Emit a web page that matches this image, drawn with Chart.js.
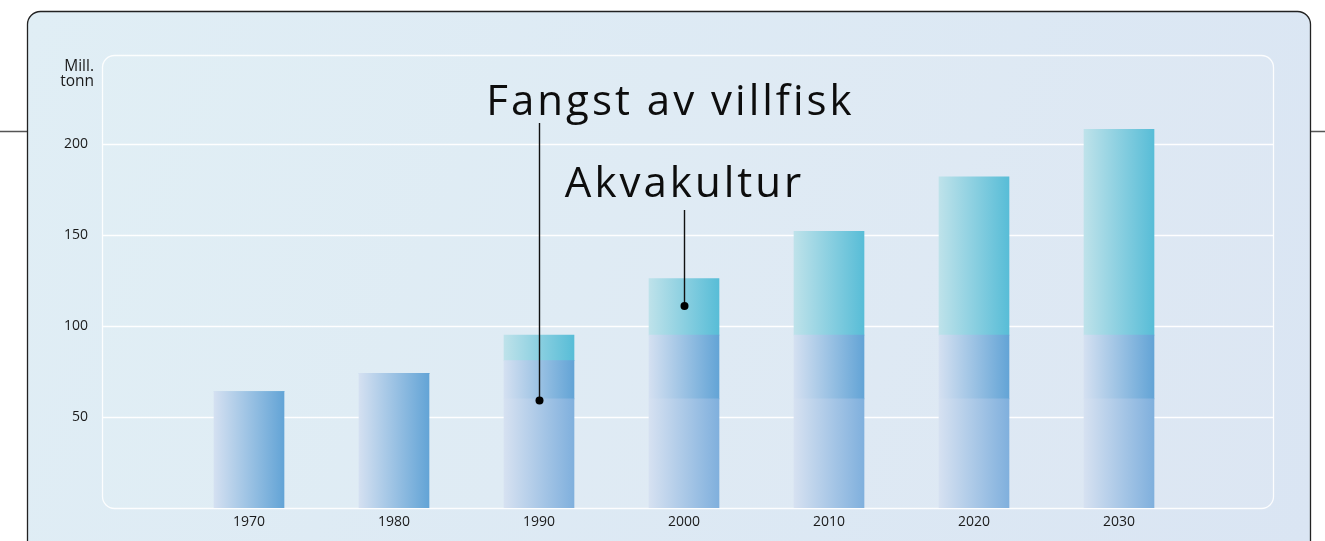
<!DOCTYPE html>
<html>
<head>
<meta charset="utf-8">
<script src="https://cdn.jsdelivr.net/npm/chart.js@4.4.1/dist/chart.umd.min.js"></script>
<style>
  html, body { margin: 0; padding: 0; background: #fff; }
  #wrap { width: 1325px; height: 541px; position: relative; }
</style>
</head>
<body>
<div id="wrap"><canvas id="chart"></canvas></div>
<script>
// data (mill. tonn)
const years = ['1970', '1980', '1990', '2000', '2010', '2020', '2030'];
const villfisk = [64, 74, 81, 95, 95, 95, 95];
const akvakultur = [0, 0, 14, 31, 57, 87, 113];
const fadedPart = [0, 0, 60, 60, 60, 60, 60];   // lighter lower band from 1990 on
const yTicks = [50, 100, 150, 200];
const callouts = [
    { text: 'Fangst av villfisk', year: '1990', value: 59 },
    { text: 'Akvakultur', year: '2000', value: 111 },
];

const BAR_W = 70;
const FONT = '"Open Sans", "DejaVu Sans", sans-serif';
const TEXT = '#1a1a1a';

const GRAD_FULL = ['rgb(212,224,241)', 'rgb(99,164,214)'];
const GRAD_FADED = ['rgb(214,225,241)', 'rgb(128,176,221)'];
const GRAD_AKVA = ['rgb(190,226,234)', 'rgb(88,189,215)'];

function barGradient(stops) {
    return (ctx) => {
        const chart = ctx.chart;
        const x = chart.scales.x;
        if (!x || ctx.dataIndex === undefined) return stops[1];
        const cx = x.getPixelForValue(ctx.dataIndex);
        if (!Number.isFinite(cx)) return stops[1];
        const g = chart.ctx.createLinearGradient(cx - BAR_W / 2, 0, cx + BAR_W / 2, 0);
        g.addColorStop(0, stops[0]);
        g.addColorStop(1, stops[1]);
        return g;
    };
}

const lower = villfisk.map((v, i) => fadedPart[i] > 0 ? fadedPart[i] : v);
const upper = villfisk.map((v, i) => v - lower[i]);

function roundRect(ctx, x, y, w, h, r) {
    ctx.beginPath();
    ctx.moveTo(x + r, y);
    ctx.lineTo(x + w - r, y);
    ctx.arcTo(x + w, y, x + w, y + r, r);
    ctx.lineTo(x + w, y + h - r);
    ctx.arcTo(x + w, y + h, x + w - r, y + h, r);
    ctx.lineTo(x + r, y + h);
    ctx.arcTo(x, y + h, x, y + h - r, r);
    ctx.lineTo(x, y + r);
    ctx.arcTo(x, y, x + r, y, r);
    ctx.closePath();
}

const panelPlugin = {
    id: 'panel',
    beforeDraw(chart) {
        const { ctx, chartArea, scales } = chart;
        ctx.save();
        ctx.fillStyle = '#fff';
        ctx.fillRect(0, 0, chart.width, chart.height);

        // thin rule behind the panel
        ctx.strokeStyle = '#555';
        ctx.lineWidth = 1.5;
        ctx.beginPath();
        ctx.moveTo(0, 131.5); ctx.lineTo(28, 131.5);
        ctx.moveTo(1309, 131.5); ctx.lineTo(1325, 131.5);
        ctx.stroke();

        // outer panel
        const bg = ctx.createLinearGradient(27, 11, 1310, 541);
        bg.addColorStop(0, '#e0eef5');
        bg.addColorStop(1, '#dae5f3');
        roundRect(ctx, 27.5, 11.5, 1283, 560, 13);
        ctx.fillStyle = bg;
        ctx.fill();
        ctx.strokeStyle = '#222';
        ctx.lineWidth = 1.3;
        ctx.stroke();

        // inner plot box
        const left = 102.5, right = 1273.5, top = 55.5, bottom = chartArea.bottom + 0.5;
        roundRect(ctx, left, top, right - left, bottom - top, 12);
        ctx.fillStyle = 'rgba(255,255,255,0.06)';
        ctx.fill();
        ctx.strokeStyle = 'rgba(255,255,255,0.9)';
        ctx.lineWidth = 1.3;
        ctx.stroke();

        // grid lines
        ctx.strokeStyle = 'rgba(255,255,255,0.95)';
        ctx.lineWidth = 1.5;
        ctx.beginPath();
        yTicks.forEach(v => {
            const y = Math.round(scales.y.getPixelForValue(v)) + 0.5;
            ctx.moveTo(left, y);
            ctx.lineTo(right, y);
        });
        ctx.stroke();

        // unit label
        ctx.fillStyle = TEXT;
        ctx.font = '15.5px ' + FONT;
        ctx.textAlign = 'right';
        ctx.textBaseline = 'alphabetic';
        ctx.fillText('Mill.', 94, 70.5);
        ctx.fillText('tonn', 94, 86);
        ctx.restore();
    },
};

const calloutPlugin = {
    id: 'callouts',
    afterDatasetsDraw(chart) {
        const { ctx, scales } = chart;
        const place = [
            { cx: 669, base: 115, lineTop: 123 },
            { cx: 683, base: 197, lineTop: 210 },
        ];
        ctx.save();
        callouts.forEach((c, i) => {
            const p = place[i];
            const x = Math.round(scales.x.getPixelForValue(years.indexOf(c.year))) + 0.5;
            const y = scales.y.getPixelForValue(c.value);
            ctx.strokeStyle = '#111';
            ctx.lineWidth = 1.4;
            ctx.beginPath();
            ctx.moveTo(x, p.lineTop);
            ctx.lineTo(x, y);
            ctx.stroke();
            ctx.fillStyle = '#000';
            ctx.beginPath();
            ctx.arc(x, y, 4, 0, Math.PI * 2);
            ctx.fill();

            ctx.font = '42px ' + FONT;
            ctx.letterSpacing = '3px';
            ctx.textAlign = 'center';
            ctx.textBaseline = 'alphabetic';
            ctx.fillStyle = '#0d0d0d';
            ctx.fillText(c.text, p.cx + 1.5, p.base);
        });
        ctx.restore();
    },
};

new Chart(document.getElementById('chart'), {
    type: 'bar',
    data: {
        labels: years,
        datasets: [
            {
                label: 'Fangst av villfisk (nedre)',
                data: lower,
                backgroundColor: (ctx) => barGradient(fadedPart[ctx.dataIndex] > 0 ? GRAD_FADED : GRAD_FULL)(ctx),
            },
            {
                label: 'Fangst av villfisk',
                data: upper,
                backgroundColor: barGradient(GRAD_FULL),
            },
            {
                label: 'Akvakultur',
                data: akvakultur,
                backgroundColor: barGradient(GRAD_AKVA),
            },
        ],
    },
    options: {
        responsive: true,
        maintainAspectRatio: false,
        animation: false,
        datasets: {
            bar: { barThickness: BAR_W, borderWidth: 0, borderSkipped: false },
        },
        layout: {
            padding: { top: 53, right: 133.5, left: 0, bottom: 0 },
        },
        plugins: {
            legend: { display: false },
            tooltip: { enabled: false },
        },
        scales: {
            x: {
                stacked: true,
                offset: true,
                grid: { display: false, drawTicks: false },
                border: { display: false },
                ticks: {
                    color: TEXT,
                    font: { family: FONT, size: 14 },
                    padding: 6,
                },
                afterFit: s => { s.height = 33; s.paddingLeft = 0; s.paddingRight = 0; },
            },
            y: {
                stacked: true,
                min: 0,
                max: 250,
                grid: { display: false, drawTicks: false },
                border: { display: false },
                ticks: {
                    stepSize: 50,
                    color: TEXT,
                    font: { family: FONT, size: 14 },
                    padding: 88.5,
                    callback: v => yTicks.includes(v) ? v : '',
                },
                afterFit: s => { s.width = 176.5; s.paddingTop = 0; s.paddingBottom = 0; },
            },
        },
    },
    plugins: [panelPlugin, calloutPlugin],
});
</script>
</body>
</html>
